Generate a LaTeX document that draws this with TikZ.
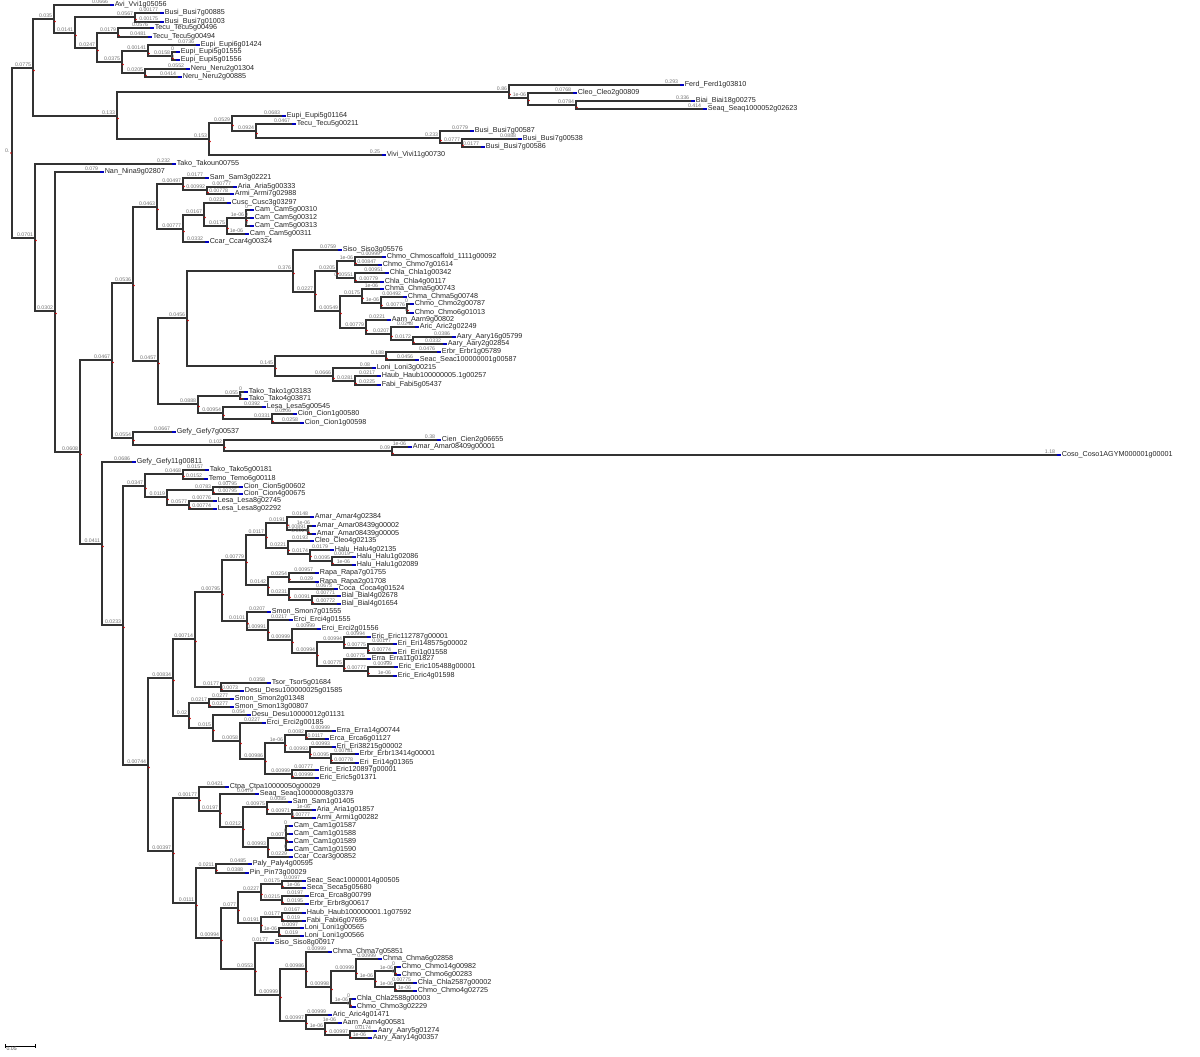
\documentclass[tikz,border=0pt]{standalone}
\usepackage{fontspec}
\setmainfont{Liberation Sans}
\begin{document}
\begin{tikzpicture}[x=0.5pt, y=-0.5pt,
  br/.style={draw=black!80, line width=0.75pt},
  lab/.style={inner xsep=0.6pt, inner ysep=0.3pt, font=\fontsize{2.6}{3}\selectfont, text=black!55},
  bl/.style={lab, pos=1, anchor=south east},
  tip/.style={anchor=west, inner xsep=2.2pt, inner ysep=0pt, font=\fontsize{3.6}{4}\selectfont, text=black!85},
  tipmark/.style={fill=blue!75!black},
  dot/.style={fill=red!80!black}
]
\path[use as bounding box, fill=white] (0,0) rectangle (1200,1056);

% internal nodes
\coordinate (r) at (12,153);
\foreach \n/\x/\y in {1/33/68, 2/54/19, 3/75/33, 4/135/17, 5/97/48, 6/118/33, 7/122/62, 8/148/51,
  9/172/56, 10/145/73, 11/117/116, 12/509/92, 13/528/98, 14/576/105, 15/209/139, 16/232/123,
  17/256/131, 18/440/138, 19/462/143, 20/35/238, 21/55/311, 22/80/452, 23/112/360, 24/133/283,
  25/157/207, 26/183/184, 27/207/190, 28/183/229, 29/204/215, 30/227/226, 31/246/218, 32/158/361,
  33/187/318, 34/293/271, 35/315/292, 36/337/271, 37/355/261, 38/355/278, 39/340/311, 40/362/296,
  41/381/303, 42/407/308, 43/366/328, 44/391/334, 45/413/340, 46/275/366, 47/386/356, 48/333/376,
  49/355/381, 50/198/404, 51/240/396, 52/223/413, 53/272/419, 54/133/438, 55/224/445, 56/392/451,
  57/102/544, 58/123/625, 59/145/486, 60/183/474, 61/167/497, 62/213/490, 63/189/505, 64/148/765,
  65/173/678, 66/195/639, 67/222/592, 68/246/560, 69/266/535, 70/287/523, 71/308/530, 72/288/548,
  73/310/554, 74/332/561, 75/268/585, 76/289/577, 77/289/595, 78/312/600, 79/247/621, 80/268/630,
  81/292/640, 82/317/653, 83/344/642, 84/368/648, 85/344/666, 86/368/671, 87/221/687, 88/189/716,
  89/209/703, 90/213/728, 91/240/741, 92/265/759, 93/285/743, 94/306/735, 95/310/752, 96/331/758,
  97/292/774, 98/173/851, 99/199/798, 100/220/811, 101/243/827, 102/267/807, 103/292/814,
  104/268/847, 105/286/838, 106/196/903, 107/216/868, 108/221/938, 109/238/908, 110/261/892,
  111/282/884, 112/282/900, 113/261/923, 114/282/917, 115/279/932, 116/255/969, 117/280/995,
  118/306/969, 119/331/987, 120/356/971, 121/375/979, 122/395/971, 123/395/987, 124/350/1003,
  125/306/1021, 126/325/1029, 127/350/1035}
  \coordinate (n\n) at (\x,\y);

% tips
\foreach \n/\x/\y/\s in {1/110/5/Avi\_Vvi1g05056, 2/160/13/Busi\_Busi7g00885, 3/160/22/Busi\_Busi7g01003,
  4/150/28/Tecu\_Tecu5g00496, 5/148/37/Tecu\_Tecu5g00494, 6/196/45/Eupi\_Eupi6g01424,
  7/176/52/Eupi\_Eupi5g01555, 8/176/60/Eupi\_Eupi5g01556, 9/186/69/Neru\_Neru2g01304,
  10/178/77/Neru\_Neru2g00885, 11/680/85/Ferd\_Ferd1g03810, 12/573/93/Cleo\_Cleo2g00809,
  13/691/101/Biai\_Biai18g00275, 14/703/109/Seaq\_Seaq1000052g02623, 15/282/116/Eupi\_Eupi5g01164,
  16/292/124/Tecu\_Tecu5g00211, 17/470/131/Busi\_Busi7g00587, 18/518/139/Busi\_Busi7g00538,
  19/481/147/Busi\_Busi7g00586, 20/382/155/Vivi\_Vivi11g00730, 21/172/164/Tako\_Takoun00755,
  22/100/172/Nan\_Nina9g02807, 23/205/178/Sam\_Sam3g02221, 24/233/187/Aria\_Aria5g00333,
  25/230/194/Armi\_Armi7g02988, 26/227/203/Cusc\_Cusc3g03297, 27/250/210/Cam\_Cam5g00310,
  28/250/218/Cam\_Cam5g00312, 29/250/226/Cam\_Cam5g00313, 30/245/234/Cam\_Cam5g00311,
  31/205/242/Ccar\_Ccar4g00324, 32/338/250/Siso\_Siso3g05576, 33/382/257/Chmo\_Chmoscaffold\_1111g00092,
  34/378/265/Chmo\_Chmo7g01614, 35/385/273/Chla\_Chla1g00342, 36/380/282/Chla\_Chla4g00117,
  37/380/289/Chma\_Chma5g00743, 38/403/297/Chma\_Chma5g00748, 39/410/304/Chmo\_Chmo2g00787,
  40/410/313/Chmo\_Chmo6g01013, 41/387/320/Aarn\_Aarn9g00802, 42/415/327/Aric\_Aric2g02249,
  43/452/337/Aary\_Aary16g05799, 44/443/344/Aary\_Aary2g02854, 45/437/352/Erbr\_Erbr1g05789,
  46/415/360/Seac\_Seac100000001g00587, 47/372/368/Loni\_Loni3g00215, 48/377/376/Haub\_Haub100000005.1g00257,
  49/377/385/Fabi\_Fabi5g05437, 50/244/392/Tako\_Tako1g03183, 51/244/399/Tako\_Tako4g03871,
  52/262/407/Lesa\_Lesa5g00545, 53/293/414/Cion\_Cion1g00580, 54/300/423/Cion\_Cion1g00598,
  55/172/432/Gefy\_Gefy7g00537, 56/437/440/Cien\_Cien2g06655, 57/408/447/Amar\_Amar08409g00001,
  58/1057/455/Coso\_Coso1AGYM000001g00001, 59/132/462/Gefy\_Gefy11g00811, 60/205/470/Tako\_Tako5g00181,
  61/204/479/Temo\_Temo6g00118, 62/239/487/Cion\_Cion5g00602, 63/239/494/Cion\_Cion4g00675,
  64/213/501/Lesa\_Lesa8g02745, 65/213/509/Lesa\_Lesa8g02292, 66/310/517/Amar\_Amar4g02384,
  67/312/526/Amar\_Amar08439g00002, 68/312/534/Amar\_Amar08439g00005, 69/310/541/Cleo\_Cleo4g02135,
  70/330/550/Halu\_Halu4g02135, 71/352/557/Halu\_Halu1g02086, 72/352/565/Halu\_Halu1g02089,
  73/315/573/Rapa\_Rapa7g01755, 74/315/582/Rapa\_Rapa2g01708, 75/334/589/Coca\_Coca4g01524,
  76/337/596/Bial\_Bial4g02678, 77/337/604/Bial\_Bial4g01654, 78/267/612/Smon\_Smon7g01555,
  79/289/620/Erci\_Erci4g01555, 80/317/629/Erci\_Erci2g01556, 81/367/637/Eric\_Eric112787g00001,
  82/393/644/Eri\_Eri148575g00002, 83/393/653/Eri\_Eri1g01558, 84/367/659/Erra\_Erra11g01827,
  85/394/667/Eric\_Eric105488g00001, 86/393/676/Eric\_Eric4g01598, 87/267/683/Tsor\_Tsor5g01684,
  88/240/691/Desu\_Desu100000025g01585, 89/230/699/Smon\_Smon2g01348, 90/230/707/Smon\_Smon13g00807,
  91/247/715/Desu\_Desu10000012g01131, 92/262/723/Erci\_Erci2g00185, 93/332/731/Erra\_Erra14g00744,
  94/325/739/Erca\_Erca6g01127, 95/332/747/Eri\_Eri38215g00002, 96/355/754/Erbr\_Erbr13414g00001,
  97/355/763/Eri\_Eri14g01365, 98/315/770/Eric\_Eric120897g00001, 99/315/778/Eric\_Eric5g01371,
  100/225/787/Ctpa\_Ctpa10000050g00029, 101/255/794/Seaq\_Seaq10000008g03379, 102/288/802/Sam\_Sam1g01405,
  103/312/810/Aria\_Aria1g01857, 104/312/818/Armi\_Armi1g00282, 105/289/826/Cam\_Cam1g01587,
  106/289/834/Cam\_Cam1g01588, 107/289/842/Cam\_Cam1g01589, 108/289/850/Cam\_Cam1g01590,
  109/289/857/Ccar\_Ccar3g00852, 110/248/864/Paly\_Paly4g00595, 111/245/873/Pin\_Pin73g00029,
  112/302/881/Seac\_Seac10000014g00505, 113/302/888/Seca\_Seca5g05680, 114/305/896/Erca\_Erca8g00799,
  115/305/904/Erbr\_Erbr8g00617, 116/302/913/Haub\_Haub100000001.1g07592, 117/302/921/Fabi\_Fabi6g07695,
  118/300/928/Loni\_Loni1g00565, 119/300/936/Loni\_Loni1g00566, 120/270/943/Siso\_Siso8g00917,
  121/328/952/Chma\_Chma7g05851, 122/378/959/Chma\_Chma6g02858, 123/397/967/Chmo\_Chmo14g00982,
  124/397/975/Chmo\_Chmo6g00283, 125/413/983/Chla\_Chla2587g00002, 126/413/991/Chmo\_Chmo4g02725,
  127/352/999/Chla\_Chla2588g00003, 128/352/1007/Chmo\_Chmo3g02229, 129/328/1015/Aric\_Aric4g01471,
  130/338/1023/Aarn\_Aarn4g00581, 131/373/1031/Aary\_Aary5g01274, 132/368/1038/Aary\_Aary14g00357}
  \node[tip] (t\n) at (\x,\y) {\s};

% inner branches
\foreach \p/\c/\l in {r/n1/0.0775, n1/n2/0.035, n2/n3/0.0141, n3/n4/0.0567, n3/n5/0.0247, n5/n6/0.0179,
  n5/n7/0.0375, n7/n8/0.00141, n8/n9/0.0158, n7/n10/0.0205, n1/n11/0.133, n11/n12/0.86, n12/n13/1e-06,
  n13/n14/0.0784, n11/n15/0.153, n15/n16/0.0529, n16/n17/0.0924, n17/n18/0.233, n18/n19/0.0777,
  r/n20/0.0701, n20/n21/0.0302, n21/n22/0.0608, n22/n23/0.0467, n23/n24/0.0536, n24/n25/0.0463,
  n25/n26/0.00497, n26/n27/0.00992, n25/n28/0.00777, n28/n29/0.0167, n29/n30/0.0175, n30/n31/1e-06,
  n24/n32/0.0457, n32/n33/0.0456, n33/n34/0.376, n34/n35/0.0227, n35/n36/0.0205, n36/n37/1e-06,
  n36/n38/0.00551, n35/n39/0.00549, n39/n40/0.0175, n40/n41/1e-06, n41/n42/0.00776, n39/n43/0.00779,
  n43/n44/0.0207, n44/n45/0.0172, n33/n46/0.145, n46/n47/0.188, n46/n48/0.0666, n48/n49/0.0281,
  n32/n50/0.0888, n50/n51/0.055, n50/n52/0.00954, n52/n53/0.0331, n23/n54/0.0554, n54/n55/0.102,
  n55/n56/0.09, n22/n57/0.0411, n57/n58/0.0233, n58/n59/0.0347, n59/n60/0.0468, n59/n61/0.0119,
  n61/n62/0.0783, n61/n63/0.0577, n58/n64/0.00744, n64/n65/0.00834, n65/n66/0.00714, n66/n67/0.00795,
  n67/n68/0.00779, n68/n69/0.0117, n69/n70/0.0191, n70/n71/0.00891, n69/n72/0.0221, n72/n73/0.0174,
  n73/n74/0.0095, n68/n75/0.0142, n75/n76/0.0254, n75/n77/0.0231, n77/n78/0.0091, n67/n79/0.0101,
  n79/n80/0.00991, n80/n81/0.00999, n81/n82/0.00994, n82/n83/0.00994, n83/n84/0.00775, n82/n85/0.00775,
  n85/n86/0.00777, n66/n87/0.0177, n65/n88/0.02, n88/n89/0.0217, n88/n90/0.015, n90/n91/0.0058,
  n91/n92/0.00986, n92/n93/1e-06, n93/n94/0.0082, n93/n95/0.00993, n95/n96/0.0095, n92/n97/0.00999,
  n64/n98/0.00397, n98/n99/0.00177, n99/n100/0.0197, n100/n101/0.0212, n101/n102/0.00975,
  n102/n103/0.00971, n101/n104/0.00993, n104/n105/0.007, n98/n106/0.0111, n106/n107/0.0211,
  n106/n108/0.00994, n108/n109/0.077, n109/n110/0.0227, n110/n111/0.0175, n110/n112/0.0215,
  n109/n113/0.0191, n113/n114/0.0177, n113/n115/1e-06, n108/n116/0.0553, n116/n117/0.00999,
  n117/n118/0.00986, n118/n119/0.00998, n119/n120/0.00999, n120/n121/1e-06, n121/n122/1e-06,
  n121/n123/1e-06, n119/n124/1e-06, n117/n125/0.00997, n125/n126/1e-06, n126/n127/0.00997}
  \draw[br] (\p) |- node[bl]{\l} (\c);

% tip branches
\foreach \p/\c/\l in {n2/t1/0.0666, n4/t2/0.00177, n4/t3/0.00175, n6/t4/0.0576, n6/t5/0.0481,
  n8/t6/0.0736, n9/t7/0, n9/t8/0, n10/t9/0.0552, n10/t10/0.0414, n12/t11/0.293, n13/t12/0.0768,
  n14/t13/0.336, n14/t14/0.414, n16/t15/0.0683, n17/t16/0.0467, n18/t17/0.0779, n19/t18/0.0888,
  n19/t19/0.0177, n15/t20/0.25, n20/t21/0.232, n21/t22/0.079, n26/t23/0.0177, n27/t24/0.00777,
  n27/t25/0.00778, n29/t26/0.0221, n31/t27/0, n31/t28/0, n31/t29/0, n30/t30/1e-06, n28/t31/0.0332,
  n34/t32/0.0759, n37/t33/0.00999, n37/t34/0.00847, n38/t35/0.00951, n38/t36/0.00779, n40/t37/1e-06,
  n41/t38/0.00492, n42/t39/0, n42/t40/0, n43/t41/0.0221, n44/t42/0.0248, n45/t43/0.0386,
  n45/t44/0.0332, n47/t45/0.0476, n47/t46/0.0456, n48/t47/0.08, n49/t48/0.0217, n49/t49/0.0225,
  n51/t50/0, n51/t51/0, n52/t52/0.0392, n53/t53/0.0206, n53/t54/0.0258, n54/t55/0.0667, n55/t56/0.38,
  n56/t57/1e-06, n56/t58/1.18, n57/t59/0.0686, n60/t60/0.0157, n60/t61/0.0152, n62/t62/0.00795,
  n62/t63/0.00795, n63/t64/0.00776, n63/t65/0.00774, n70/t66/0.0148, n71/t67/1e-06, n71/t68/0.00144,
  n72/t69/0.0193, n73/t70/0.0179, n74/t71/0.0019, n74/t72/1e-06, n76/t73/0.00957, n76/t74/0.029,
  n77/t75/0.0673, n78/t76/0.00771, n78/t77/0.00772, n79/t78/0.0207, n80/t79/0.0217, n81/t80/0.00999,
  n83/t81/0.00994, n84/t82/0.00177, n84/t83/0.00774, n85/t84/0.00775, n86/t85/0.00999, n86/t86/1e-06,
  n87/t87/0.0358, n87/t88/0.0073, n89/t89/0.0277, n89/t90/0.0277, n90/t91/0.054, n91/t92/0.0227,
  n94/t93/0.00999, n94/t94/0.0117, n95/t95/0.00993, n96/t96/0.00781, n96/t97/0.00778, n97/t98/0.00777,
  n97/t99/0.00999, n99/t100/0.0421, n100/t101/0.0479, n102/t102/0.0085, n103/t103/1e-06,
  n103/t104/0.00777, n105/t105/0, n105/t106/0, n105/t107/0, n105/t108/0, n104/t109/0.0229,
  n107/t110/0.0485, n107/t111/0.0388, n111/t112/0.0097, n111/t113/1e-06, n112/t114/0.0197,
  n112/t115/0.0195, n114/t116/0.0167, n114/t117/0.019, n115/t118/0.0097, n115/t119/0.019,
  n116/t120/0.0177, n118/t121/0.00999, n120/t122/0.00999, n122/t123/0, n122/t124/0, n123/t125/0.00775,
  n123/t126/1e-06, n124/t127/0, n124/t128/0, n125/t129/0.00999, n126/t130/1e-06, n127/t131/0.0174,
  n127/t132/1e-06}
  \draw[br] (\p) |- node[bl]{\l} (\c);

% node and tip marks
\foreach \n in {1,...,127}
  \fill[dot] (n\n) ++(1,2.5) circle[radius=0.45pt];
\fill[dot] (r) ++(-1,0) circle[radius=0.45pt];
\foreach \n in {1,...,132}
  \fill[tipmark] (t\n.west) ++(0,-0.8) rectangle ++(3.5,1.6);

% root label and scale bar
\node[lab, anchor=east] (rootlab) at (11,151) {0.};
\coordinate (s0) at (5,1046);
\coordinate (s1) at (35,1046);
\draw[line width=0.5pt] (s0) -- (s1);
\draw[line width=0.5pt] (s0) ++(0,-2) -- ++(0,4);
\draw[line width=0.5pt] (s1) ++(0,-2) -- ++(0,4);
\node[lab, anchor=north west, text=black!70] (scale) at (s0) {0.05};
\end{tikzpicture}
\end{document}
